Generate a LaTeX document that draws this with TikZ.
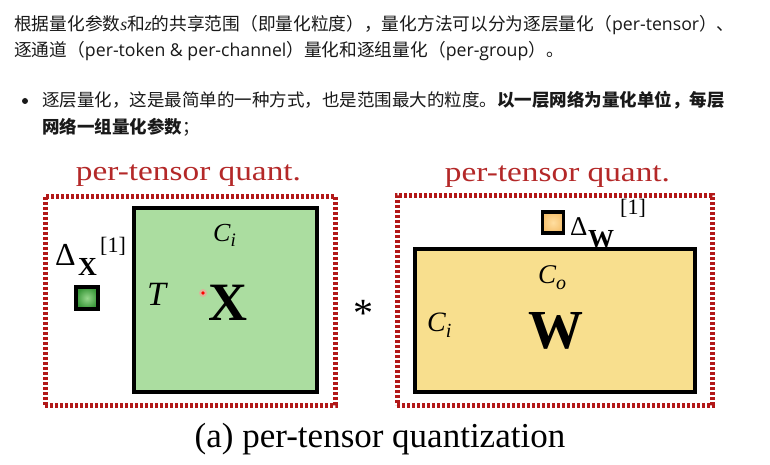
\documentclass[tikz,border=0pt]{standalone}
\usepackage{fontspec}
\setmainfont{Liberation Serif}
\newfontfamily\cjk{Noto Sans CJK SC}
\newfontfamily\osans{Open Sans}
\newfontfamily\tms{Liberation Serif}
\definecolor{dotred}{RGB}{178,24,24}
\definecolor{titlered}{RGB}{180,40,40}
\definecolor{xgreen}{RGB}{171,221,160}
\definecolor{wyellow}{RGB}{248,223,142}
\definecolor{txt}{RGB}{25,25,25}
\newcommand{\fsz}[1]{\fontsize{#1}{#1}\selectfont}
\newcommand{\lat}[1]{{\osans #1}}
\begin{document}
\begin{tikzpicture}[x=1pt,y=-1pt,
  cjkline/.style={anchor=base west,inner sep=0pt,text=txt,font=\cjk\fsz{17.7}},
  cjkbul/.style={anchor=base west,inner sep=0pt,text=txt,font=\cjk\fsz{17.5}},
  lbl/.style={anchor=base west,inner sep=0pt,text=black},
  dotbox/.style={draw=dotred,line width=5pt,dash pattern=on 3.2pt off 1.8pt,rectangle,inner sep=0pt},
  matbox/.style={draw=black,line width=4pt,rectangle,inner sep=0pt},
  titl/.style={anchor=base,inner sep=0pt,text=titlered,font=\tms\fsz{28}},
]
\useasboundingbox[fill=white] (0,0) rectangle (770,465);

% ---- text paragraph
\node[cjkline] (l1) at (14,30.5) {根据量化参数{\tms\itshape s}和{\tms\itshape z}的共享范围（即量化粒度），量化方法可以分为逐层量化（\lat{per-tensor}）、};
\node[cjkline] (l2) at (14,56.5) {逐通道（\lat{per-token \& per-channel}）量化和逐组量化（\lat{per-group}）。};
\node[circle,fill=txt,minimum size=6pt,inner sep=0pt] (bul) at (25,101) {};
\node[cjkbul] (b1) at (42,106.5) {逐层量化，这是最简单的一种方式，也是范围最大的粒度。{\bfseries 以一层网络为量化单位，每层}};
\node[cjkbul] (b2) at (42,133.5) {{\bfseries 网络一组量化参数}；};

% ---- dotted frames
\node[dotbox,minimum width=290pt,minimum height=209pt] (lbox) at (190,300.5) {};
\node[dotbox,minimum width=315pt,minimum height=210pt] (rbox) at (554.5,300) {};

\node[titl] (lt) at (188.5,181) {\scalebox{1.19}[1]{per-tensor quant.}};
\node[titl] (rt) at (557.5,182) {\scalebox{1.19}[1]{per-tensor quant.}};

% ---- matrices
\node[matbox,fill=xgreen,minimum width=183pt,minimum height=184pt] (X) at (225.5,300) {};
\node[matbox,fill=wyellow,minimum width=280pt,minimum height=143pt] (W) at (555,320.5) {};

% small scale squares
\node[draw=black,line width=3.5pt,minimum size=22pt,inner sep=0pt,shading=radial,inner color={rgb,255:red,150;green,215;blue,140},outer color={rgb,255:red,55;green,150;blue,55}] (sx) at (87,298) {};
\node[draw=black,line width=3.5pt,minimum size=21pt,inner sep=0pt,shading=radial,inner color={rgb,255:red,255;green,222;blue,160},outer color={rgb,255:red,245;green,192;blue,110}] (sw) at (553,222.5) {};

% labels X side
\node[lbl,font=\tms\fsz{32}] (dx) at (55,265) {Δ};
\node[lbl,font=\tms\bfseries\fsz{26}] (dxs) at (78,275) {X};
\node[lbl,font=\tms\fsz{22}] (dxp) at (100,252) {[1]};
\node[lbl,font=\tms\itshape\fsz{26}] (ci1) at (213,241) {C\raisebox{-5pt}{\fsz{19}i}};
\node[lbl,font=\tms\itshape\fsz{34}] (tt) at (147,305) {T};
\node[lbl,font=\tms\bfseries\fsz{54}] (xx) at (208,320) {X};

% labels W side
\node[lbl,font=\tms\fsz{27}] (dw) at (570,235) {Δ};
\node[lbl,font=\tms\bfseries\fsz{26}] (dws) at (588,247) {W};
\node[lbl,font=\tms\fsz{22}] (dwp) at (620,214) {[1]};
\node[lbl,font=\tms\itshape\fsz{27}] (co) at (538,283) {C\raisebox{-6pt}{\fsz{20}o}};
\node[lbl,font=\tms\itshape\fsz{28}] (ci2) at (427,331) {C\raisebox{-6pt}{\fsz{20}i}};
\node[lbl,font=\tms\bfseries\fsz{55}] (ww) at (528,348) {W};

% operator
\node[anchor=base,inner sep=0pt,font=\tms\fsz{40}] (star) at (363,326) {*};

% caption
\node[anchor=base,inner sep=0pt,font=\tms\fsz{35},text=black] (cap) at (380,447) {(a) per-tensor quantization};

% cursor dot
\fill[red!40,opacity=0.6] (203,293) circle (4pt);
\fill[red] (203,293) circle (1.8pt);
\end{tikzpicture}
\end{document}
